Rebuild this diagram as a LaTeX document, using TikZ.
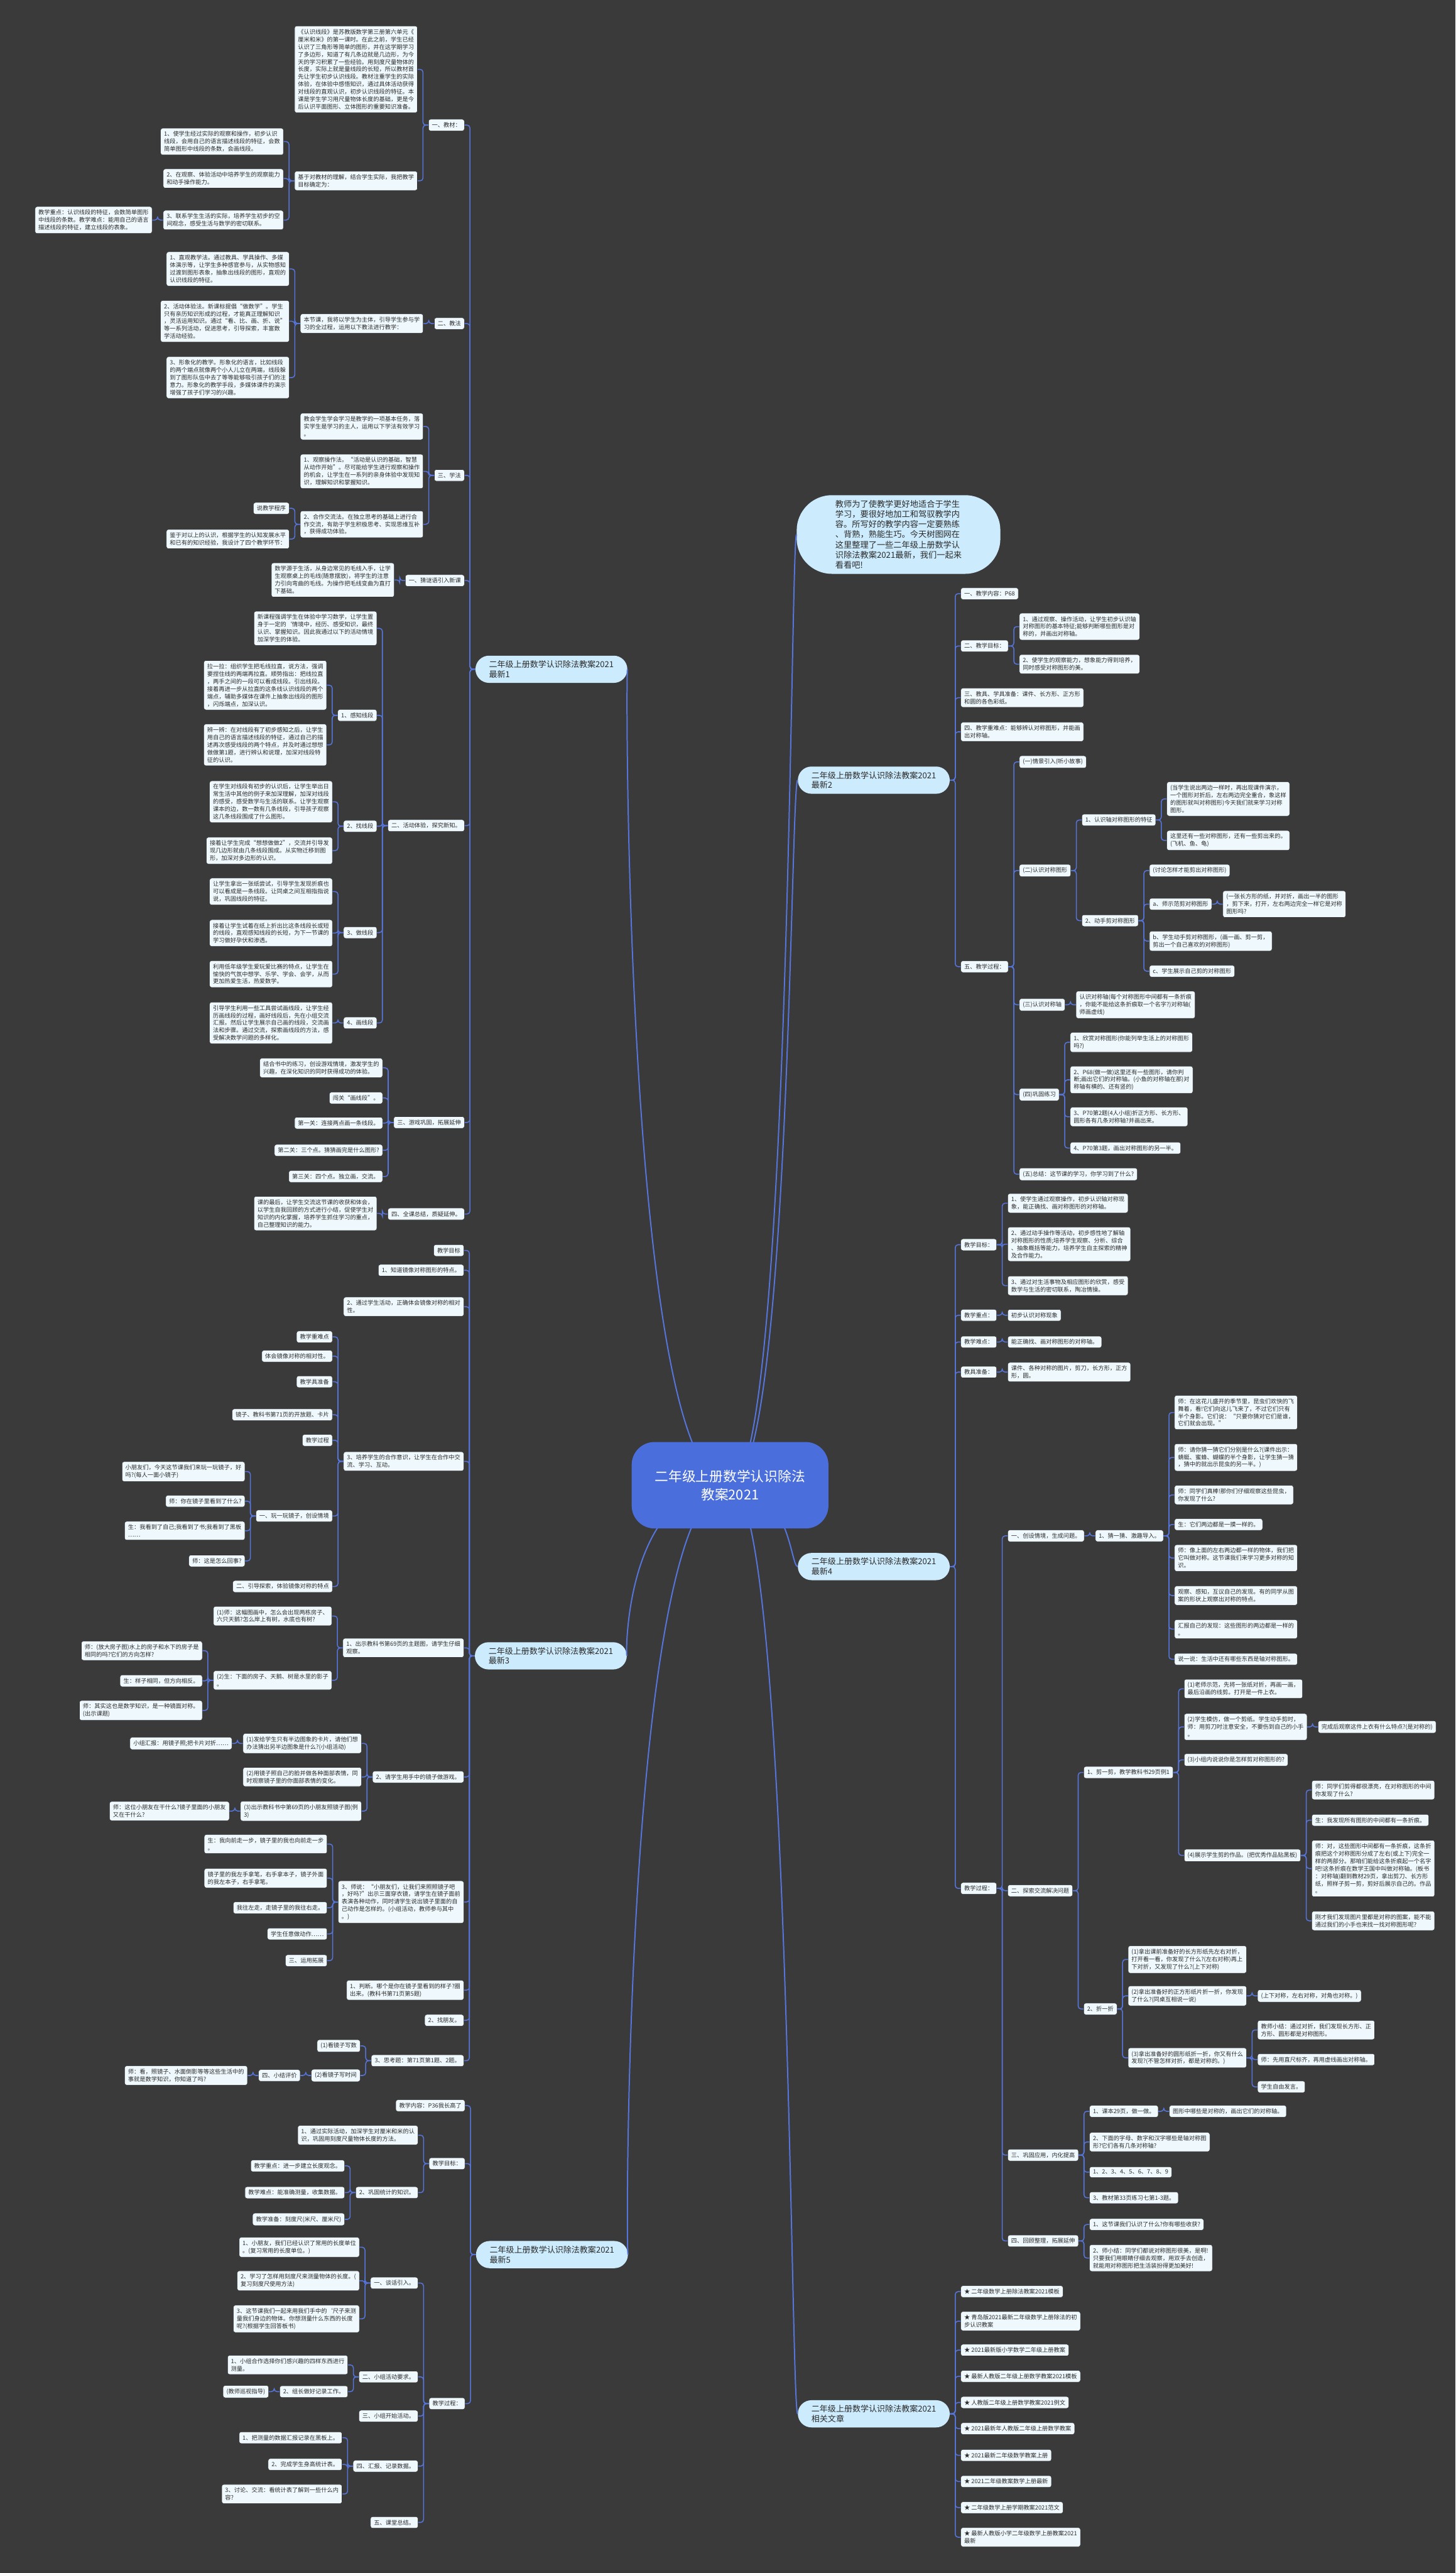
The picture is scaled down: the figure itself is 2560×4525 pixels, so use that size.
\documentclass[tikz,border=0pt]{standalone}
\usepackage{fontspec}
\setmainfont{Noto Sans CJK SC}
\definecolor{bgc}{HTML}{3A3A3A}
\definecolor{leafc}{HTML}{EFF9FD}
\definecolor{pillc}{HTML}{CCEBFC}
\definecolor{hubc}{HTML}{4A6FDC}
\definecolor{linec}{HTML}{5675DA}
\definecolor{inkc}{HTML}{2B2B2B}
\tikzset{
  leaf/.style={draw=black!80, line width=0.6pt, fill=leafc, text=inkc, rounded corners=3.5pt,
    inner xsep=6pt, inner ysep=5.5pt, align=left, font=\fontsize{10.2}{13.2}\selectfont},
  lt/.style={leaf, anchor=east, xshift=-19pt},
  rt/.style={leaf, anchor=west, xshift=19pt},
  pill/.style={fill=pillc, text=inkc, rounded corners=24pt, inner xsep=24pt, inner ysep=8.5pt,
    align=left, font=\fontsize{14.4}{17.5}\selectfont},
  bubble/.style={pill, rounded corners=62pt, inner xsep=68pt, inner ysep=9pt,
    font=\fontsize{14.6}{17.8}\selectfont},
  hub/.style={fill=hubc, text=white, rounded corners=40pt, minimum width=346pt, minimum height=152pt,
    align=center, font=\fontsize{24}{32}\selectfont},
  link/.style={draw=linec, line width=1.7pt, rounded corners=5pt},
  toL/.style={to path={-- ++(-9.5pt,0) |- (\tikztotarget)}},
  toR/.style={to path={-- ++(9.5pt,0) |- (\tikztotarget)}},
}
\begin{document}
\begin{tikzpicture}[x=1pt, y=-1pt]
\fill[bgc] (0,0) rectangle (2560,4525);

% branch 1
\node[pill, anchor=west] (B1) at (836,1177) {二年级上册数学认识除法教案2021\\最新1};
\node[lt] (a) at (B1.west |- 0,220) {一、教材：};
\node[lt] (a1) at (a.west |- 0,122) {《认识线段》是苏教版数学第三册第六单元《\\厘米和米》的第一课时。在此之前，学生已经\\认识了三角形等简单的图形，并在这学期学习\\了多边形，知道了有几条边就是几边形，为今\\天的学习积累了一些经验。用刻度尺量物体的\\长度，实际上就是量线段的长短，所以教材首\\先让学生初步认识线段。教材注重学生的实际\\体验，在体验中感悟知识，通过具体活动获得\\对线段的直观认识，初步认识线段的特征。本\\课是学生学习用尺量物体长度的基础，更是今\\后认识平面图形、立体图形的重要知识准备。};
\node[lt] (a2) at (a.west |- 0,318) {基于对教材的理解，结合学生实际，我把教学\\目标确定为：};
\node[lt] (a21) at (a2.west |- 0,249) {1、使学生经过实际的观察和操作，初步认识\\线段，会用自己的语言描述线段的特征，会数\\简单图形中线段的条数，会画线段。};
\node[lt] (a22) at (a2.west |- 0,314) {2、在观察、体验活动中培养学生的观察能力\\和动手操作能力。};
\node[lt] (a23) at (a2.west |- 0,387) {3、联系学生生活的实际，培养学生初步的空\\间观念，感受生活与数学的密切联系。};
\node[lt] (a231) at (a23.west |- 0,387) {教学重点：认识线段的特征，会数简单图形\\中线段的条数。教学难点：能用自己的语言\\描述线段的特征，建立线段的表象。};
\node[lt] (b) at (B1.west |- 0,569) {二、教法};
\node[lt] (b1) at (b.west |- 0,569) {本节课，我将以学生为主体，引导学生参与学\\习的全过程，运用以下教法进行教学：};
\node[lt] (b11) at (b1.west |- 0,473) {1、直观教学法。通过教具、学具操作、多媒\\体演示等，让学生多种感官参与，从实物感知\\过渡到图形表象，抽象出线段的图形，直观的\\认识线段的特征。};
\node[lt] (b12) at (b1.west |- 0,565) {2、活动体验法。新课标提倡“做数学”。学生\\只有亲历知识形成的过程，才能真正理解知识\\，灵活运用知识。通过“看、比、画、折、说”\\等一系列活动，促进思考，引导探索，丰富数\\学活动经验。};
\node[lt] (b13) at (b1.west |- 0,664) {3、形象化的教学。形象化的语言，比如线段\\的两个端点就像两个小人儿立在两端，线段躲\\到了图形队伍中去了等等能够吸引孩子们的注\\意力。形象化的教学手段，多媒体课件的演示\\增强了孩子们学习的兴趣。};
\node[lt] (c) at (B1.west |- 0,836) {三、学法};
\node[lt] (c1) at (c.west |- 0,750) {教会学生学会学习是教学的一项基本任务，落\\实学生是学习的主人，运用以下学法有效学习\\。};
\node[lt] (c2) at (c.west |- 0,829) {1、观察操作法。“活动是认识的基础，智慧\\从动作开始”。尽可能给学生进行观察和操作\\的机会，让学生在一系列的亲身体验中发现知\\识，理解知识和掌握知识。};
\node[lt] (c3) at (c.west |- 0,922) {2、合作交流法。在独立思考的基础上进行合\\作交流，有助于学生积极思考、实现思维互补\\，获得成功体验。};
\node[lt] (c31) at (c3.west |- 0,894) {说教学程序};
\node[lt] (c32) at (c3.west |- 0,948) {鉴于对以上的认识，根据学生的认知发展水平\\和已有的知识经验，我设计了四个教学环节：};
\node[lt] (d) at (B1.west |- 0,1021) {一、猜谜语引入新课};
\node[lt] (d1) at (d.west |- 0,1020) {数学源于生活，从身边常见的毛线入手，让学\\生观察桌上的毛线(随意摆放)，将学生的注意\\力引向弯曲的毛线。为操作把毛线变曲为直打\\下基础。};
\node[lt] (e) at (B1.west |- 0,1452) {二、活动体验，探究新知。};
\node[lt] (e1) at (e.west |- 0,1105) {新课程强调学生在体验中学习数学，让学生置\\身于一定的`情境中，经历、感受知识，最终\\认识、掌握知识。因此我通过以下的活动情境\\加深学生的体验。};
\node[lt] (e2) at (e.west |- 0,1258) {1、感知线段};
\node[lt] (e21) at (e2.west |- 0,1205) {拉一拉：组织学生把毛线拉直，说方法，强调\\要捏住线的两端再拉直。顺势指出：把线拉直\\，两手之间的一段可以看成线段。引出线段。\\接着再进一步从拉直的这条线认识线段的两个\\端点，辅助多媒体在课件上抽象出线段的图形\\，闪烁端点，加深认识。};
\node[lt] (e22) at (e2.west |- 0,1310) {辨一辨：在对线段有了初步感知之后，让学生\\用自己的语言描述线段的特征，通过自己的描\\述再次感受线段的两个特点，并及时通过想想\\做做第1题，进行辨认和说理，加深对线段特\\征的认识。};
\node[lt] (e3) at (e.west |- 0,1453) {2、找线段};
\node[lt] (e31) at (e3.west |- 0,1410) {在学生对线段有初步的认识后，让学生举出日\\常生活中其他的例子来加深理解，加深对线段\\的感受，感受数学与生活的联系。让学生观察\\课本的边，数一数有几条线段，引导孩子观察\\这几条线段围成了什么图形。};
\node[lt] (e32) at (e3.west |- 0,1496) {接着让学生完成“想想做做2”，交流并引导发\\现几边形就由几条线段围成。从实物迁移到图\\形，加深对多边形的认识。};
\node[lt] (e4) at (e.west |- 0,1640) {3、做线段};
\node[lt] (e41) at (e4.west |- 0,1568) {让学生拿出一张纸尝试，引导学生发现折痕也\\可以看成是一条线段。让同桌之间互相指指说\\说，巩固线段的特征。};
\node[lt] (e42) at (e4.west |- 0,1641) {接着让学生试着在纸上折出比这条线段长或短\\的线段，直观感知线段的长短，为下一节课的\\学习做好孕伏和渗透。};
\node[lt] (e43) at (e4.west |- 0,1713) {利用低年级学生爱玩爱比赛的特点，让学生在\\愉快的气氛中想学、乐学、学会、会学，从而\\更加热爱生活，热爱数学。};
\node[lt] (e5) at (e.west |- 0,1799) {4、画线段};
\node[lt] (e51) at (e5.west |- 0,1799) {引导学生利用一些工具尝试画线段，让学生经\\历画线段的过程，画好线段后，先在小组交流\\汇报。然后让学生展示自己画的线段，交流画\\法和步骤。通过交流，探索画线段的方法，感\\受解决数学问题的多样化。};
\node[lt] (f) at (B1.west |- 0,1974) {三、游戏巩固，拓展延伸};
\node[lt] (f1) at (f.west |- 0,1878) {结合书中的练习，创设游戏情境，激发学生的\\兴趣，在深化知识的同时获得成功的体验。};
\node[lt] (f2) at (f.west |- 0,1931) {闯关“画线段”。};
\node[lt] (f3) at (f.west |- 0,1975) {第一关：连接两点画一条线段。};
\node[lt] (f4) at (f.west |- 0,2023) {第二关：三个点。猜猜画完是什么图形?};
\node[lt] (f5) at (f.west |- 0,2069) {第三关：四个点。独立画，交流。};
\node[lt] (g) at (B1.west |- 0,2135) {四、全课总结，质疑延伸。};
\node[lt] (g1) at (g.west |- 0,2134) {课的最后，让学生交流这节课的收获和体会，\\以学生自我回顾的方式进行小结，促使学生对\\知识的内化掌握，培养学生抓住学习的重点，\\自己整理知识的能力。};

% branch 3
\node[pill, anchor=west] (B3) at (835,2912) {二年级上册数学认识除法教案2021\\最新3};
\node[lt] (h) at (B3.west |- 0,2199) {教学目标};
\node[lt] (i) at (B3.west |- 0,2234) {1、知道镜像对称图形的特点。};
\node[lt] (j) at (B3.west |- 0,2298) {2、通过学生活动，正确体会镜像对称的相对\\性。};
\node[lt] (k) at (B3.west |- 0,2570) {3、培养学生的合作意识，让学生在合作中交\\流、学习、互动。};
\node[lt] (k1) at (k.west |- 0,2351) {教学重难点};
\node[lt] (k2) at (k.west |- 0,2385) {体会镜像对称的相对性。};
\node[lt] (k3) at (k.west |- 0,2430) {教学具准备};
\node[lt] (k4) at (k.west |- 0,2488) {镜子、教科书第71页的开放题、卡片};
\node[lt] (k5) at (k.west |- 0,2533) {教学过程};
\node[lt] (k6) at (k.west |- 0,2666) {一、玩一玩镜子，创设情境};
\node[lt] (k61) at (k6.west |- 0,2588) {小朋友们，今天这节课我们来玩一玩镜子，好\\吗?(每人一面小镜子)};
\node[lt] (k62) at (k6.west |- 0,2640) {师：你在镜子里看到了什么?};
\node[lt] (k63) at (k6.west |- 0,2692) {生：我看到了自己;我看到了书;我看到了黑板\\……};
\node[lt] (k64) at (k6.west |- 0,2745) {师：这是怎么回事?};
\node[lt] (k7) at (k.west |- 0,2790) {二、引导探索，体验镜像对称的特点};
\node[lt] (l) at (B3.west |- 0,2898) {1、出示教科书第69页的主题图，请学生仔细\\观察。};
\node[lt] (l1) at (l.west |- 0,2842) {(1)师：这幅图画中，怎么会出现两栋房子、\\六只天鹅?怎么岸上有树，水底也有树?};
\node[lt] (l2) at (l.west |- 0,2955) {(2)生：下面的房子、天鹅、树是水里的影子\\。};
\node[lt] (l21) at (l2.west |- 0,2903) {师：(放大房子图)水上的房子和水下的房子是\\相同的吗?它们的方向怎样?};
\node[lt] (l22) at (l2.west |- 0,2956) {生：样子相同，但方向相反。};
\node[lt] (l23) at (l2.west |- 0,3008) {师：其实这也是数学知识，是一种镜面对称。\\(出示课题)};
\node[lt] (m) at (B3.west |- 0,3125) {2、请学生用手中的镜子做游戏。};
\node[lt] (m1) at (m.west |- 0,3066) {(1)发给学生只有半边图象的卡片，请他们想\\办法猜出另半边图象是什么?(小组活动)};
\node[lt] (m11) at (m1.west |- 0,3066) {小组汇报：用镜子照;把卡片对折……};
\node[lt] (m2) at (m.west |- 0,3125) {(2)用镜子照自己的脸并做各种面部表情，同\\时观察镜子里的你面部表情的变化。};
\node[lt] (m3) at (m.west |- 0,3185) {(3)出示教科书中第69页的小朋友照镜子图(例\\3)};
\node[lt] (m31) at (m3.west |- 0,3185) {师：这位小朋友在干什么?镜子里面的小朋友\\又在干什么?};
\node[lt] (n) at (B3.west |- 0,3345) {3、师说：“小朋友们，让我们来照照镜子吧\\，好吗?”出示三面穿衣镜，请学生在镜子面前\\表演各种动作，同时请学生说出镜子里面的自\\己动作是怎样的。(小组活动，教师参与其中\\。)};
\node[lt] (n1) at (n.west |- 0,3243) {生：我向前走一步，镜子里的我也向前走一步\\。};
\node[lt] (n2) at (n.west |- 0,3303) {镜子里的我左手拿笔，右手拿本子，镜子外面\\的我左本子，右手拿笔。};
\node[lt] (n3) at (n.west |- 0,3355) {我往左走，走镜子里的我往右走。};
\node[lt] (n4) at (n.west |- 0,3401) {学生任意做动作……};
\node[lt] (n5) at (n.west |- 0,3448) {三、运用拓展};
\node[lt] (o) at (B3.west |- 0,3500) {1、判断。哪个是你在镜子里看到的样子?圈\\出来。(教科书第71页第5题)};
\node[lt] (p) at (B3.west |- 0,3553) {2、找朋友。};
\node[lt] (q) at (B3.west |- 0,3624) {3、思考题：第71页第1题、2题。};
\node[lt] (q1) at (q.west |- 0,3598) {(1)看镜子写数};
\node[lt] (q2) at (q.west |- 0,3650) {(2)看镜子写时间};
\node[lt] (q21) at (q2.west |- 0,3650) {四、小结评价};
\node[lt] (q211) at (q21.west |- 0,3650) {师：看，照镜子、水面倒影等等这些生活中的\\事就是数学知识，你知道了吗?};

% branch 5
\node[pill, anchor=west] (B5) at (837,3965) {二年级上册数学认识除法教案2021\\最新5};
\node[lt] (r) at (B5.west |- 0,3703) {教学内容：P36我长高了};
\node[lt] (s) at (B5.west |- 0,3805) {教学目标：};
\node[lt] (s1) at (s.west |- 0,3755) {1、通过实际活动，加深学生对厘米和米的认\\识，巩固用刻度尺量物体长度的方法。};
\node[lt] (s2) at (s.west |- 0,3856) {2、巩固统计的知识。};
\node[lt] (s21) at (s2.west |- 0,3809) {教学重点：进一步建立长度观念。};
\node[lt] (s22) at (s2.west |- 0,3856) {教学难点：能准确测量，收集数据。};
\node[lt] (s23) at (s2.west |- 0,3903) {教学准备：刻度尺(米尺、厘米尺)};
\node[lt] (t) at (B5.west |- 0,4227) {教学过程：};
\node[lt] (t1) at (t.west |- 0,4015) {一、谈话引入。};
\node[lt] (t11) at (t1.west |- 0,3952) {1、小朋友，我们已经认识了常用的长度单位\\。(复习常用的长度单位。)};
\node[lt] (t12) at (t1.west |- 0,4011) {2、学习了怎样用刻度尺来测量物体的长度。(\\复习刻度尺使用方法)};
\node[lt] (t13) at (t1.west |- 0,4078) {3、这节课我们一起来用我们手中的`尺子来测\\量我们身边的物体。你想测量什么东西的长度\\呢?(根据学生回答板书)};
\node[lt] (t2) at (t.west |- 0,4180) {二、小组活动要求。};
\node[lt] (t21) at (t2.west |- 0,4159) {1、小组合作选择你们感兴趣的四样东西进行\\测量。};
\node[lt] (t22) at (t2.west |- 0,4206) {2、组长做好记录工作。};
\node[lt] (t221) at (t22.west |- 0,4206) {(教师巡视指导)};
\node[lt] (t3) at (t.west |- 0,4249) {三、小组开始活动。};
\node[lt] (t4) at (t.west |- 0,4337) {四、汇报、记录数据。};
\node[lt] (t41) at (t4.west |- 0,4287) {1、把测量的数据汇报记录在黑板上。};
\node[lt] (t42) at (t4.west |- 0,4334) {2、完成学生身高统计表。};
\node[lt] (t43) at (t4.west |- 0,4386) {3、讨论、交流：看统计表了解到一些什么内\\容?};
\node[lt] (t5) at (t.west |- 0,4436) {五、课堂总结。};

% intro and branch 2
\node[bubble, anchor=west] (intro) at (1401,940) {教师为了使教学更好地适合于学生\\学习，要很好地加工和驾驭教学内\\容。所写好的教学内容一定要熟练\\、背熟，熟能生巧。今天树图网在\\这里整理了一些二年级上册数学认\\识除法教案2021最新，我们一起来\\看看吧!};
\node[pill, anchor=west] (B2) at (1403,1372) {二年级上册数学认识除法教案2021\\最新2};
\node[rt] (u1) at (B2.east |- 0,1044) {一、教学内容：P68};
\node[rt] (u2) at (B2.east |- 0,1136) {二、教学目标：};
\node[rt] (u21) at (u2.east |- 0,1102) {1、通过观察、操作活动，让学生初步认识轴\\对称图形的基本特征;能够判断哪些图形是对\\称的，并画出对称轴。};
\node[rt] (u22) at (u2.east |- 0,1168) {2、使学生的观察能力，想象能力得到培养，\\同时感受对称图形的美。};
\node[rt] (u3) at (B2.east |- 0,1227) {三、教具、学具准备：课件、长方形、正方形\\和圆的各色彩纸。};
\node[rt] (u4) at (B2.east |- 0,1287) {四、教学重难点：能够辨认对称图形，并能画\\出对称轴。};
\node[rt] (u5) at (B2.east |- 0,1700) {五、教学过程：};
\node[rt] (v1) at (u5.east |- 0,1340) {(一)情景引入(听小故事)};
\node[rt] (v2) at (u5.east |- 0,1531) {(二)认识对称图形};
\node[rt] (v21) at (v2.east |- 0,1442) {1、认识轴对称图形的特征};
\node[rt] (v211) at (v21.east |- 0,1405) {(当学生说出两边一样时，再出现课件演示，\\一个图形对折后，左右两边完全重合，象这样\\的图形就叫对称图形)今天我们就来学习对称\\图形。};
\node[rt] (v212) at (v21.east |- 0,1478) {这里还有一些对称图形，还有一些剪出来的。\\(飞机、鱼、龟)};
\node[rt] (v22) at (v2.east |- 0,1619) {2、动手剪对称图形};
\node[rt] (v221) at (v22.east |- 0,1531) {(讨论怎样才能剪出对称图形)};
\node[rt] (v222) at (v22.east |- 0,1590) {a、师示范剪对称图形};
\node[rt] (v2221) at (v222.east |- 0,1590) {(一张长方形的纸，并对折，画出一半的图形\\，剪下来，打开，左右两边完全一样它是对称\\图形吗?};
\node[rt] (v223) at (v22.east |- 0,1655) {b、学生动手剪对称图形，(画一画、剪一剪，\\剪出一个自己喜欢的对称图形)};
\node[rt] (v224) at (v22.east |- 0,1708) {c、学生展示自己剪的对称图形};
\node[rt] (v3) at (u5.east |- 0,1767) {(三)认识对称轴};
\node[rt] (v31) at (v3.east |- 0,1767) {认识对称轴(每个对称图形中间都有一条折痕\\，你能不能给这条折痕取一个名字?)对称轴(\\师画虚线)};
\node[rt] (v4) at (u5.east |- 0,1925) {(四)巩固练习};
\node[rt] (v41) at (v4.east |- 0,1833) {1、欣赏对称图形(你能列举生活上的对称图形\\吗?)};
\node[rt] (v42) at (v4.east |- 0,1899) {2、P68(做一做)这里还有一些图形，请你判\\断;画出它们的对称轴。(小鱼的对称轴在那)对\\称轴有横的、还有竖的)};
\node[rt] (v43) at (v4.east |- 0,1964) {3、P70第2题(4人小组)折正方形、长方形、\\圆形各有几条对称轴?并画出来。};
\node[rt] (v44) at (v4.east |- 0,2019) {4、P70第3题，画出对称图形的另一半。};
\node[rt] (v5) at (u5.east |- 0,2065) {(五)总结：这节课的学习，你学习到了什么?};

% branch 4
\node[pill, anchor=west] (B4) at (1403,2755) {二年级上册数学认识除法教案2021\\最新4};
\node[rt] (w1) at (B4.east |- 0,2189) {教学目标：};
\node[rt] (w11) at (w1.east |- 0,2116) {1、使学生通过观察操作，初步认识轴对称现\\象，能正确找、画对称图形的对称轴。};
\node[rt] (w12) at (w1.east |- 0,2188) {2、通过动手操作等活动，初步感性地了解轴\\对称图形的性质;培养学生观察、分析、综合\\、抽象概括等能力，培养学生自主探索的精神\\及合作能力。};
\node[rt] (w13) at (w1.east |- 0,2261) {3、通过对生活事物及相应图形的欣赏，感受\\数学与生活的密切联系，陶冶情操。};
\node[rt] (w2) at (B4.east |- 0,2313) {教学重点：};
\node[rt] (w21) at (w2.east |- 0,2313) {初步认识对称现象};
\node[rt] (w3) at (B4.east |- 0,2360) {教学难点：};
\node[rt] (w31) at (w3.east |- 0,2360) {能正确找、画对称图形的对称轴。};
\node[rt] (w4) at (B4.east |- 0,2413) {教具准备：};
\node[rt] (w41) at (w4.east |- 0,2413) {课件、各种对称的图片，剪刀，长方形，正方\\形，圆。};
\node[rt] (w5) at (B4.east |- 0,3321) {教学过程：};
\node[rt] (x1) at (w5.east |- 0,2701) {一、创设情境，生成问题。};
\node[rt] (x11) at (x1.east |- 0,2701) {1、猜一猜、激趣导入。};
\node[rt] (x111) at (x11.east |- 0,2484) {师：在这花儿盛开的季节里，昆虫们欢快的飞\\舞着，看!它们向这儿飞来了，不过它们只有\\半个身影。它们说：“只要你猜对它们是谁，\\它们就会出现。”};
\node[rt] (x112) at (x11.east |- 0,2563) {师：请你猜一猜它们分别是什么?(课件出示：\\蜻蜓、蜜蜂、蝴蝶的半个身影，让学生猜一猜\\，猜中的就出示昆虫的另一半。)};
\node[rt] (x113) at (x11.east |- 0,2629) {师：同学们真棒!那你们仔细观察这些昆虫，\\你发现了什么?};
\node[rt] (x114) at (x11.east |- 0,2681) {生：它们两边都是一摸一样的。};
\node[rt] (x115) at (x11.east |- 0,2740) {师：像上面的左右两边都一样的物体，我们把\\它叫做对称。这节课我们来学习更多对称的知\\识。};
\node[rt] (x116) at (x11.east |- 0,2806) {观察、感知，互议自己的发现。有的同学从图\\案的形状上观察出对称的特点。};
\node[rt] (x117) at (x11.east |- 0,2865) {汇报自己的发现：这些图形的两边都是一样的\\。};
\node[rt] (x118) at (x11.east |- 0,2918) {说一说：生活中还有哪些东西是轴对称图形。};
\node[rt] (x2) at (w5.east |- 0,3325) {二、探索交流解决问题};
\node[rt] (x21) at (x2.east |- 0,3117) {1、剪一剪，教学教科书29页例1};
\node[rt] (x211) at (x21.east |- 0,2970) {(1)老师示范，先将一张纸对折，再画一画，\\最后沿画的线剪。打开是一件上衣。};
\node[rt] (x212) at (x21.east |- 0,3037) {(2)学生模仿，做一个剪纸。学生动手剪时，\\师：用剪刀时注意安全，不要伤到自己的小手\\。};
\node[rt] (x2121) at (x212.east |- 0,3037) {完成后观察这件上衣有什么特点?(是对称的)};
\node[rt] (x213) at (x21.east |- 0,3095) {(3)小组内说说你是怎样剪对称图形的?};
\node[rt] (x214) at (x21.east |- 0,3263) {(4)展示学生剪的作品。(把优秀作品贴黑板)};
\node[rt] (x2141) at (x214.east |- 0,3148) {师：同学们剪得都很漂亮，在对称图形的中间\\你发现了什么?};
\node[rt] (x2142) at (x214.east |- 0,3201) {生：我发现所有图形的中间都有一条折痕。};
\node[rt] (x2143) at (x214.east |- 0,3286) {师：对，这些图形中间都有一条折痕，这条折\\痕把这个对称图形分成了左右(或上下)完全一\\样的两部分。那咱们能给这条折痕起一个名字\\吧!这条折痕在数学王国中叫做对称轴。(板书\\：对称轴)翻到教材29页，拿出剪刀、长方形\\纸，照样子剪一剪，剪好后展示自己的。作品\\。};
\node[rt] (x2144) at (x214.east |- 0,3378) {刚才我们发现图片里都是对称的图案，能不能\\通过我们的小手也来找一找对称图形呢?};
\node[rt] (x22) at (x2.east |- 0,3533) {2、折一折};
\node[rt] (x221) at (x22.east |- 0,3446) {(1)拿出课前准备好的长方形纸先左右对折，\\打开看一看，你发现了什么?(左右对称)再上\\下对折，又发现了什么?(上下对称)};
\node[rt] (x222) at (x22.east |- 0,3510) {(2)拿出准备好的正方形纸片折一折，你发现\\了什么?(同桌互相说一说)};
\node[rt] (x2221) at (x222.east |- 0,3510) {(上下对称，左右对称，对角也对称。)};
\node[rt] (x223) at (x22.east |- 0,3619) {(3)拿出准备好的圆形纸折一折，你又有什么\\发现?(不管怎样对折，都是对称的。)};
\node[rt] (x2231) at (x223.east |- 0,3570) {教师小结：通过对折，我们发现长方形、正\\方形、圆形都是对称图形。};
\node[rt] (x2232) at (x223.east |- 0,3622) {师：先用直尺标齐，再用虚线画出对称轴。};
\node[rt] (x2233) at (x223.east |- 0,3670) {学生自由发言。};
\node[rt] (x3) at (w5.east |- 0,3790) {三、巩固应用，内化提高};
\node[rt] (x31) at (x3.east |- 0,3713) {1、课本29页，做一做。};
\node[rt] (x311) at (x31.east |- 0,3713) {图形中哪些是对称的，画出它们的对称轴。};
\node[rt] (x32) at (x3.east |- 0,3767) {2、下面的字母、数字和汉字哪些是轴对称图\\形?它们各有几条对称轴?};
\node[rt] (x33) at (x3.east |- 0,3820) {1、2、3、4、5、6、7、8、9};
\node[rt] (x34) at (x3.east |- 0,3865) {3、教材第33页练习七第1-3题。};
\node[rt] (x4) at (w5.east |- 0,3941) {四、回顾整理，拓展延伸};
\node[rt] (x41) at (x4.east |- 0,3912) {1、这节课我们认识了什么?你有哪些收获?};
\node[rt] (x42) at (x4.east |- 0,3971) {2、师小结：同学们都说对称图形很美，是啊!\\只要我们用眼睛仔细去观察，用双手去创造，\\就能用对称图形把生活装扮得更加美好!};

% related articles
\node[pill, anchor=west] (R) at (1403,4245) {二年级上册数学认识除法教案2021\\相关文章};
\node[rt] (y1) at (R.east |- 0,4030) {★ 二年级数学上册除法教案2021模板};
\node[rt] (y2) at (R.east |- 0,4082) {★ 青岛版2021最新二年级数学上册除法的初\\步认识教案};
\node[rt] (y3) at (R.east |- 0,4133) {★ 2021最新版小学数学二年级上册教案};
\node[rt] (y4) at (R.east |- 0,4179) {★ 最新人教版二年级上册数学教案2021模板};
\node[rt] (y5) at (R.east |- 0,4225) {★ 人教版二年级上册数学教案2021例文};
\node[rt] (y6) at (R.east |- 0,4271) {★ 2021最新年人教版二年级上册数学教案};
\node[rt] (y7) at (R.east |- 0,4318) {★ 2021最新二年级数学教案上册};
\node[rt] (y8) at (R.east |- 0,4364) {★ 2021二年级教案数学上册最新};
\node[rt] (y9) at (R.east |- 0,4410) {★ 二年级数学上册学期教案2021范文};
\node[rt] (y10) at (R.east |- 0,4462) {★ 最新人教版小学二年级数学上册教案2021\\最新};

% connectors, left side
\draw[link] (B1.west) edge[toL] (a.east) edge[toL] (b.east) edge[toL] (c.east) edge[toL] (d.east) edge[toL] (e.east) edge[toL] (f.east) edge[toL] (g.east);
\draw[link] (a.west) edge[toL] (a1.east) edge[toL] (a2.east);
\draw[link] (a2.west) edge[toL] (a21.east) edge[toL] (a22.east) edge[toL] (a23.east);
\draw[link] (a23.west) edge[toL] (a231.east);
\draw[link] (b.west) edge[toL] (b1.east);
\draw[link] (b1.west) edge[toL] (b11.east) edge[toL] (b12.east) edge[toL] (b13.east);
\draw[link] (c.west) edge[toL] (c1.east) edge[toL] (c2.east) edge[toL] (c3.east);
\draw[link] (c3.west) edge[toL] (c31.east) edge[toL] (c32.east);
\draw[link] (d.west) edge[toL] (d1.east);
\draw[link] (e.west) edge[toL] (e1.east) edge[toL] (e2.east) edge[toL] (e3.east) edge[toL] (e4.east) edge[toL] (e5.east);
\draw[link] (e2.west) edge[toL] (e21.east) edge[toL] (e22.east);
\draw[link] (e3.west) edge[toL] (e31.east) edge[toL] (e32.east);
\draw[link] (e4.west) edge[toL] (e41.east) edge[toL] (e42.east) edge[toL] (e43.east);
\draw[link] (e5.west) edge[toL] (e51.east);
\draw[link] (f.west) edge[toL] (f1.east) edge[toL] (f2.east) edge[toL] (f3.east) edge[toL] (f4.east) edge[toL] (f5.east);
\draw[link] (g.west) edge[toL] (g1.east);
\draw[link] (B3.west) edge[toL] (h.east) edge[toL] (i.east) edge[toL] (j.east) edge[toL] (k.east) edge[toL] (l.east) edge[toL] (m.east) edge[toL] (n.east) edge[toL] (o.east) edge[toL] (p.east) edge[toL] (q.east);
\draw[link] (k.west) edge[toL] (k1.east) edge[toL] (k2.east) edge[toL] (k3.east) edge[toL] (k4.east) edge[toL] (k5.east) edge[toL] (k6.east) edge[toL] (k7.east);
\draw[link] (k6.west) edge[toL] (k61.east) edge[toL] (k62.east) edge[toL] (k63.east) edge[toL] (k64.east);
\draw[link] (l.west) edge[toL] (l1.east) edge[toL] (l2.east);
\draw[link] (l2.west) edge[toL] (l21.east) edge[toL] (l22.east) edge[toL] (l23.east);
\draw[link] (m.west) edge[toL] (m1.east) edge[toL] (m2.east) edge[toL] (m3.east);
\draw[link] (m1.west) edge[toL] (m11.east);
\draw[link] (m3.west) edge[toL] (m31.east);
\draw[link] (n.west) edge[toL] (n1.east) edge[toL] (n2.east) edge[toL] (n3.east) edge[toL] (n4.east) edge[toL] (n5.east);
\draw[link] (q.west) edge[toL] (q1.east) edge[toL] (q2.east);
\draw[link] (q2.west) edge[toL] (q21.east);
\draw[link] (q21.west) edge[toL] (q211.east);
\draw[link] (B5.west) edge[toL] (r.east) edge[toL] (s.east) edge[toL] (t.east);
\draw[link] (s.west) edge[toL] (s1.east) edge[toL] (s2.east);
\draw[link] (s2.west) edge[toL] (s21.east) edge[toL] (s22.east) edge[toL] (s23.east);
\draw[link] (t.west) edge[toL] (t1.east) edge[toL] (t2.east) edge[toL] (t3.east) edge[toL] (t4.east) edge[toL] (t5.east);
\draw[link] (t1.west) edge[toL] (t11.east) edge[toL] (t12.east) edge[toL] (t13.east);
\draw[link] (t2.west) edge[toL] (t21.east) edge[toL] (t22.east);
\draw[link] (t22.west) edge[toL] (t221.east);
\draw[link] (t4.west) edge[toL] (t41.east) edge[toL] (t42.east) edge[toL] (t43.east);

% connectors, right side
\draw[link] (B2.east) edge[toR] (u1.west) edge[toR] (u2.west) edge[toR] (u3.west) edge[toR] (u4.west) edge[toR] (u5.west);
\draw[link] (u2.east) edge[toR] (u21.west) edge[toR] (u22.west);
\draw[link] (u5.east) edge[toR] (v1.west) edge[toR] (v2.west) edge[toR] (v3.west) edge[toR] (v4.west) edge[toR] (v5.west);
\draw[link] (v2.east) edge[toR] (v21.west) edge[toR] (v22.west);
\draw[link] (v21.east) edge[toR] (v211.west) edge[toR] (v212.west);
\draw[link] (v22.east) edge[toR] (v221.west) edge[toR] (v222.west) edge[toR] (v223.west) edge[toR] (v224.west);
\draw[link] (v222.east) edge[toR] (v2221.west);
\draw[link] (v3.east) edge[toR] (v31.west);
\draw[link] (v4.east) edge[toR] (v41.west) edge[toR] (v42.west) edge[toR] (v43.west) edge[toR] (v44.west);
\draw[link] (B4.east) edge[toR] (w1.west) edge[toR] (w2.west) edge[toR] (w3.west) edge[toR] (w4.west) edge[toR] (w5.west);
\draw[link] (w1.east) edge[toR] (w11.west) edge[toR] (w12.west) edge[toR] (w13.west);
\draw[link] (w2.east) edge[toR] (w21.west);
\draw[link] (w3.east) edge[toR] (w31.west);
\draw[link] (w4.east) edge[toR] (w41.west);
\draw[link] (w5.east) edge[toR] (x1.west) edge[toR] (x2.west) edge[toR] (x3.west) edge[toR] (x4.west);
\draw[link] (x1.east) edge[toR] (x11.west);
\draw[link] (x11.east) edge[toR] (x111.west) edge[toR] (x112.west) edge[toR] (x113.west) edge[toR] (x114.west) edge[toR] (x115.west) edge[toR] (x116.west) edge[toR] (x117.west) edge[toR] (x118.west);
\draw[link] (x2.east) edge[toR] (x21.west) edge[toR] (x22.west);
\draw[link] (x21.east) edge[toR] (x211.west) edge[toR] (x212.west) edge[toR] (x213.west) edge[toR] (x214.west);
\draw[link] (x212.east) edge[toR] (x2121.west);
\draw[link] (x214.east) edge[toR] (x2141.west) edge[toR] (x2142.west) edge[toR] (x2143.west) edge[toR] (x2144.west);
\draw[link] (x22.east) edge[toR] (x221.west) edge[toR] (x222.west) edge[toR] (x223.west);
\draw[link] (x222.east) edge[toR] (x2221.west);
\draw[link] (x223.east) edge[toR] (x2231.west) edge[toR] (x2232.west) edge[toR] (x2233.west);
\draw[link] (x3.east) edge[toR] (x31.west) edge[toR] (x32.west) edge[toR] (x33.west) edge[toR] (x34.west);
\draw[link] (x31.east) edge[toR] (x311.west);
\draw[link] (x4.east) edge[toR] (x41.west) edge[toR] (x42.west);
\draw[link] (R.east) edge[toR] (y1.west) edge[toR] (y2.west) edge[toR] (y3.west) edge[toR] (y4.west) edge[toR] (y5.west) edge[toR] (y6.west) edge[toR] (y7.west) edge[toR] (y8.west) edge[toR] (y9.west) edge[toR] (y10.west);

% root curves, root drawn on top
\draw[link, line width=2.2pt] (1284,2612) .. controls (1100,2612) and (1100,1177) .. (B1.east);
\draw[link, line width=2.2pt] (1284,2612) .. controls (1100,2612) and (1100,2912) .. (B3.east);
\draw[link, line width=2.2pt] (1284,2612) .. controls (1100,2612) and (1100,3965) .. (B5.east);
\draw[link, line width=2.2pt] (1284,2612) .. controls (1390,2612) and (1390,940) .. (intro.west);
\draw[link, line width=2.2pt] (1284,2612) .. controls (1390,2612) and (1390,1372) .. (B2.west);
\draw[link, line width=2.2pt] (1284,2612) .. controls (1390,2612) and (1390,2755) .. (B4.west);
\draw[link, line width=2.2pt] (1284,2612) .. controls (1390,2612) and (1390,4245) .. (R.west);
\node[hub] (root) at (1284,2612) {二年级上册数学认识除法\\教案2021};
\end{tikzpicture}
\end{document}
